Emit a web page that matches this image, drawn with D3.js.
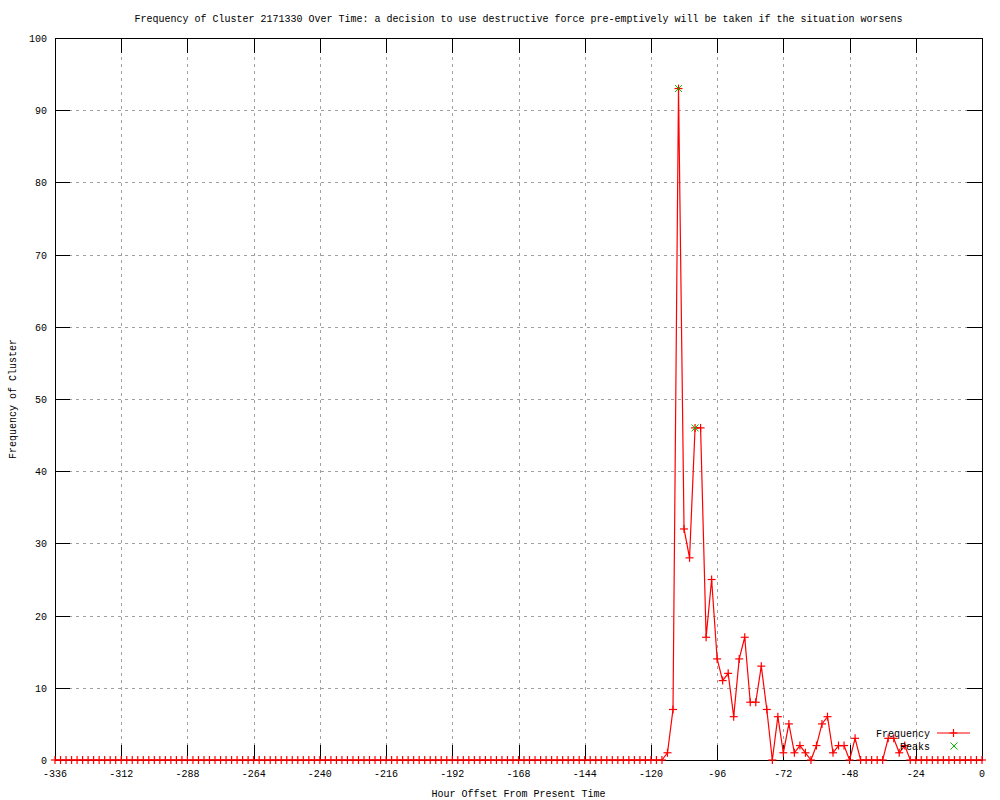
<!DOCTYPE html>
<html>
<head>
<meta charset="utf-8">
<script src="https://cdn.jsdelivr.net/npm/d3@7"></script>
<style>
  body { margin: 0; background: #fff; }
  svg text { font-family: "Liberation Mono", "DejaVu Sans Mono", monospace; font-size: 10px; fill: #000; }
</style>
</head>
<body>
<svg id="chart" width="1000" height="800"></svg>
<script>
const title = "Frequency of Cluster 2171330 Over Time: a decision to use destructive force pre-emptively will be taken if the situation worsens";

// hourly offsets, one reading every 2 hours from -336 to 0
const hours = d3.range(-336, 1, 2);

const frequency = [
  0, 0, 0, 0, 0, 0, 0, 0, 0, 0, 0, 0, 0, 0, 0, 0, 0, 0, 0, 0,
  0, 0, 0, 0, 0, 0, 0, 0, 0, 0, 0, 0, 0, 0, 0, 0, 0, 0, 0, 0,
  0, 0, 0, 0, 0, 0, 0, 0, 0, 0, 0, 0, 0, 0, 0, 0, 0, 0, 0, 0,
  0, 0, 0, 0, 0, 0, 0, 0, 0, 0, 0, 0, 0, 0, 0, 0, 0, 0, 0, 0,
  0, 0, 0, 0, 0, 0, 0, 0, 0, 0, 0, 0, 0, 0, 0, 0, 0, 0, 0, 0,
  0, 0, 0, 0, 0, 0, 0, 0, 0, 0, 0,
  1, 7, 93, 32, 28, 46, 46, 17, 25, 14, 11, 12, 6, 14, 17, 8, 8, 13, 7, 0,
  6, 1, 5, 1, 2, 1, 0, 2, 5, 6, 1, 2, 2, 0, 3, 0, 0, 0, 0, 0,
  3, 3, 1, 2,
  0, 0, 0, 0, 0, 0, 0, 0, 0, 0, 0, 0, 0, 0
];

const peakHours = [-110, -104];
const peakValues = [93, 46];

const xTicks = d3.range(-336, 1, 24);
const yTicks = d3.range(0, 101, 10);

const svg = d3.select("#chart");
const margin = { left: 55, right: 18, top: 38, bottom: 40 };
const width = 1000;
const height = 800;

const x = d3.scaleLinear().domain([-336, 0]).range([margin.left, width - margin.right]);
const y = d3.scaleLinear().domain([0, 100]).range([height - margin.bottom, margin.top]);

const data = hours.map((h, i) => ({ h: h, v: frequency[i] }));
const peaks = peakHours.map((h, i) => ({ h: h, v: peakValues[i] }));

// grid
const grid = svg.append("g")
    .attr("stroke", "#a0a0a0")
    .attr("stroke-width", 1)
    .attr("stroke-dasharray", "3,4");

grid.selectAll("line.gx")
  .data(xTicks.slice(1, -1))
  .enter().append("line")
    .attr("x1", d => Math.round(x(d)) + 0.5)
    .attr("x2", d => Math.round(x(d)) + 0.5)
    .attr("y1", y(0))
    .attr("y2", y(100));

grid.selectAll("line.gy")
  .data(yTicks.slice(1, -1))
  .enter().append("line")
    .attr("y1", d => Math.round(y(d)) + 0.5)
    .attr("y2", d => Math.round(y(d)) + 0.5)
    .attr("x1", x(-336))
    .attr("x2", x(0));

// axes with mirrored inward ticks
const tickLen = 15;
const axes = svg.append("g").attr("stroke", "#000").attr("stroke-width", 1);

xTicks.forEach(d => {
  const px = Math.round(x(d)) + 0.5;
  axes.append("line").attr("x1", px).attr("x2", px).attr("y1", y(0)).attr("y2", y(0) - tickLen);
  axes.append("line").attr("x1", px).attr("x2", px).attr("y1", y(100)).attr("y2", y(100) + tickLen);
});

yTicks.forEach(d => {
  const py = Math.round(y(d)) + 0.5;
  axes.append("line").attr("y1", py).attr("y2", py).attr("x1", x(-336)).attr("x2", x(-336) + tickLen);
  axes.append("line").attr("y1", py).attr("y2", py).attr("x1", x(0)).attr("x2", x(0) - tickLen);
});

svg.append("rect")
    .attr("x", Math.round(x(-336)) + 0.5)
    .attr("y", Math.round(y(100)) + 0.5)
    .attr("width", Math.round(x(0)) - Math.round(x(-336)))
    .attr("height", Math.round(y(0)) - Math.round(y(100)))
    .attr("fill", "none")
    .attr("stroke", "#000");

// tick labels
svg.append("g").selectAll("text")
  .data(xTicks)
  .enter().append("text")
    .attr("x", d => x(d))
    .attr("y", y(0) + 17)
    .attr("text-anchor", "middle")
    .text(d => d);

svg.append("g").selectAll("text")
  .data(yTicks)
  .enter().append("text")
    .attr("x", x(-336) - 8)
    .attr("y", d => y(d) + 4)
    .attr("text-anchor", "end")
    .text(d => d);

// titles
svg.append("text")
    .attr("x", (x(-336) + x(0)) / 2)
    .attr("y", 22)
    .attr("text-anchor", "middle")
    .text(title);

svg.append("text")
    .attr("x", (x(-336) + x(0)) / 2)
    .attr("y", 797)
    .attr("text-anchor", "middle")
    .text("Hour Offset From Present Time");

svg.append("text")
    .attr("transform", "translate(16," + y(50) + ") rotate(-90)")
    .attr("text-anchor", "middle")
    .text("Frequency of Cluster");

// series
const red = "#ff0000";
const green = "#00c000";

const line = d3.line().x(d => x(d.h)).y(d => y(d.v));

svg.append("path")
    .datum(data)
    .attr("d", line)
    .attr("fill", "none")
    .attr("stroke", red)
    .attr("stroke-width", 1.2);

const plus = (g, cx, cy, r, color) => {
  g.append("line").attr("x1", cx - r).attr("x2", cx + r).attr("y1", cy).attr("y2", cy)
    .attr("stroke", color).attr("stroke-width", 1.2);
  g.append("line").attr("x1", cx).attr("x2", cx).attr("y1", cy - r).attr("y2", cy + r)
    .attr("stroke", color).attr("stroke-width", 1.2);
};

const cross = (g, cx, cy, r, color) => {
  g.append("line").attr("x1", cx - r).attr("x2", cx + r).attr("y1", cy - r).attr("y2", cy + r)
    .attr("stroke", color).attr("stroke-width", 1);
  g.append("line").attr("x1", cx - r).attr("x2", cx + r).attr("y1", cy + r).attr("y2", cy - r)
    .attr("stroke", color).attr("stroke-width", 1);
};

const marks = svg.append("g");
data.forEach(d => plus(marks, x(d.h), y(d.v), 4, red));

const peakMarks = svg.append("g");
peaks.forEach(d => cross(peakMarks, x(d.h), y(d.v), 3.5, green));

// legend
const legend = svg.append("g");
legend.append("text").attr("x", 930).attr("y", 737).attr("text-anchor", "end").text("Frequency");
legend.append("line").attr("x1", 937).attr("x2", 970).attr("y1", 733).attr("y2", 733)
    .attr("stroke", red).attr("stroke-width", 1.2);
plus(legend, 953.5, 733, 4, red);
legend.append("text").attr("x", 930).attr("y", 750).attr("text-anchor", "end").text("Peaks");
cross(legend, 954, 746, 3.5, green);
</script>
</body>
</html>
